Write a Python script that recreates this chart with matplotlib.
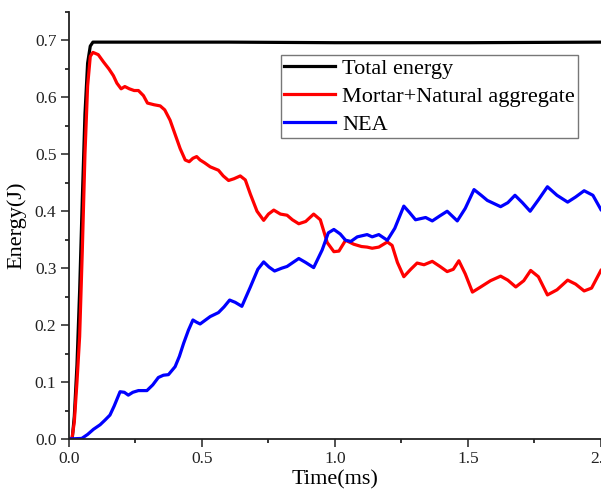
import matplotlib
matplotlib.use("Agg")
import matplotlib.pyplot as plt
from matplotlib.ticker import MultipleLocator

plt.rcParams['font.family'] = ['Liberation Serif', 'DejaVu Serif']

# Total energy
t_total = [0.0, 0.012, 0.02, 0.03, 0.04, 0.05, 0.06, 0.07, 0.08, 0.09, 0.1,
           0.3, 0.6, 1.0, 1.5, 2.0]
e_total = [0.0, 0.0, 0.04, 0.13, 0.26, 0.42, 0.57, 0.66, 0.69, 0.697, 0.697,
           0.697, 0.697, 0.696, 0.696, 0.697]

# Mortar + natural aggregate
t_mortar = [0.0, 0.011, 0.02, 0.03, 0.04, 0.05, 0.06, 0.07, 0.08, 0.09,
            0.11, 0.13, 0.15, 0.167, 0.18, 0.196, 0.21, 0.227, 0.245, 0.261,
            0.28, 0.295, 0.32, 0.343, 0.36, 0.38, 0.399, 0.418, 0.437, 0.452,
            0.466, 0.48, 0.493, 0.51, 0.531, 0.562, 0.58, 0.6, 0.62, 0.644,
            0.663, 0.682, 0.707, 0.732, 0.75, 0.77, 0.795, 0.82, 0.84, 0.864,
            0.89, 0.92, 0.945, 0.971, 0.996, 1.015, 1.04, 1.071, 1.1, 1.121,
            1.14, 1.165, 1.197, 1.215, 1.235, 1.259, 1.285, 1.309, 1.335, 1.366,
            1.395, 1.422, 1.445, 1.466, 1.49, 1.517, 1.548, 1.585, 1.623, 1.65,
            1.68, 1.71, 1.736, 1.765, 1.799, 1.835, 1.875, 1.905, 1.937, 1.965,
            2.0]
e_mortar = [0.0, 0.0, 0.03, 0.10, 0.18, 0.33, 0.50, 0.62, 0.672, 0.679,
            0.675, 0.662, 0.65, 0.638, 0.625, 0.615, 0.619, 0.615, 0.612, 0.612,
            0.603, 0.59, 0.587, 0.585, 0.578, 0.56, 0.535, 0.51, 0.49, 0.487,
            0.493, 0.496, 0.49, 0.485, 0.478, 0.472, 0.462, 0.454, 0.457, 0.462,
            0.455, 0.43, 0.40, 0.384, 0.395, 0.402, 0.395, 0.393, 0.385, 0.378,
            0.382, 0.395, 0.385, 0.345, 0.329, 0.33, 0.349, 0.342, 0.338, 0.337,
            0.335, 0.337, 0.346, 0.34, 0.31, 0.285, 0.298, 0.309, 0.306, 0.312,
            0.303, 0.294, 0.298, 0.313, 0.29, 0.258, 0.267, 0.278, 0.286, 0.279,
            0.267, 0.278, 0.296, 0.285, 0.253, 0.262, 0.279, 0.272, 0.26, 0.265,
            0.296]

# NEA
t_nea = [0.0, 0.048, 0.07, 0.092, 0.117, 0.135, 0.154, 0.17, 0.192, 0.208,
         0.223, 0.24, 0.261, 0.293, 0.315, 0.336, 0.355, 0.374, 0.399, 0.415,
         0.431, 0.449, 0.466, 0.48, 0.493, 0.531, 0.562, 0.583, 0.604, 0.625,
         0.65, 0.682, 0.71, 0.732, 0.752, 0.773, 0.8, 0.82, 0.864, 0.89,
         0.92, 0.952, 0.975, 0.996, 1.02, 1.04, 1.06, 1.084, 1.121, 1.14,
         1.165, 1.197, 1.225, 1.259, 1.28, 1.303, 1.341, 1.366, 1.395, 1.422,
         1.44, 1.46, 1.49, 1.523, 1.55, 1.573, 1.623, 1.65, 1.677, 1.705,
         1.734, 1.765, 1.799, 1.835, 1.875, 1.905, 1.937, 1.97, 2.0]
e_nea = [0.0, 0.001, 0.008, 0.017, 0.025, 0.033, 0.042, 0.058, 0.083, 0.082,
         0.077, 0.082, 0.085, 0.085, 0.095, 0.108, 0.112, 0.113, 0.127, 0.145,
         0.168, 0.191, 0.209, 0.205, 0.202, 0.215, 0.222, 0.232, 0.244, 0.24,
         0.233, 0.267, 0.298, 0.311, 0.302, 0.295, 0.3, 0.303, 0.317, 0.31,
         0.301, 0.332, 0.362, 0.368, 0.36, 0.349, 0.347, 0.355, 0.359, 0.355,
         0.359, 0.349, 0.37, 0.409, 0.398, 0.385, 0.389, 0.383, 0.392, 0.4,
         0.392, 0.383, 0.405, 0.438, 0.428, 0.419, 0.408, 0.415, 0.428, 0.415,
         0.4, 0.42, 0.443, 0.428, 0.416, 0.425, 0.436, 0.428, 0.403]

fig = plt.figure(figsize=(6.01, 4.98), dpi=100)
ax = fig.add_axes([0.1148, 0.1185, 0.885, 0.8575])

ax.plot(t_total, e_total, color='black', lw=2.3, label='Total energy',
        solid_joinstyle='round')
ax.plot(t_mortar, e_mortar, color='#ff0000', lw=2.3,
        label='Mortar+Natural aggregate', solid_joinstyle='round')
ax.plot(t_nea, e_nea, color='#0000ff', lw=2.3, label='NEA',
        solid_joinstyle='round')

ax.set_xlim(0, 2.0)
ax.set_ylim(0, 0.75)
ax.xaxis.set_major_locator(MultipleLocator(0.5))
ax.xaxis.set_minor_locator(MultipleLocator(0.25))
ax.yaxis.set_major_locator(MultipleLocator(0.1))
ax.yaxis.set_minor_locator(MultipleLocator(0.05))
ax.xaxis.set_major_formatter(matplotlib.ticker.FormatStrFormatter('%.1f'))
ax.yaxis.set_major_formatter(matplotlib.ticker.FormatStrFormatter('%.1f'))

ax.tick_params(which='major', direction='out', length=5.5, width=1.1,
               labelsize=12.5, colors='#222222')
ax.tick_params(which='minor', direction='out', length=3, width=1.1)
for s in ['top', 'right']:
    ax.spines[s].set_visible(False)
for s in ['left', 'bottom']:
    ax.spines[s].set_linewidth(1.3)
    ax.spines[s].set_color('#222222')

ax.set_xlabel('Time(ms)', fontsize=16, labelpad=2)
ax.set_ylabel('Energy(J)', fontsize=16, labelpad=6)

leg = ax.legend(loc='upper right', bbox_to_anchor=(0.957, 0.899),
                fontsize=16, frameon=True, fancybox=False, borderaxespad=0,
                borderpad=0.15, handlelength=2.3, handletextpad=0.3,
                labelspacing=0.33)
leg.get_frame().set_edgecolor('#555555')
leg.get_frame().set_linewidth(1.0)

fig.savefig('out.png', dpi=100)
